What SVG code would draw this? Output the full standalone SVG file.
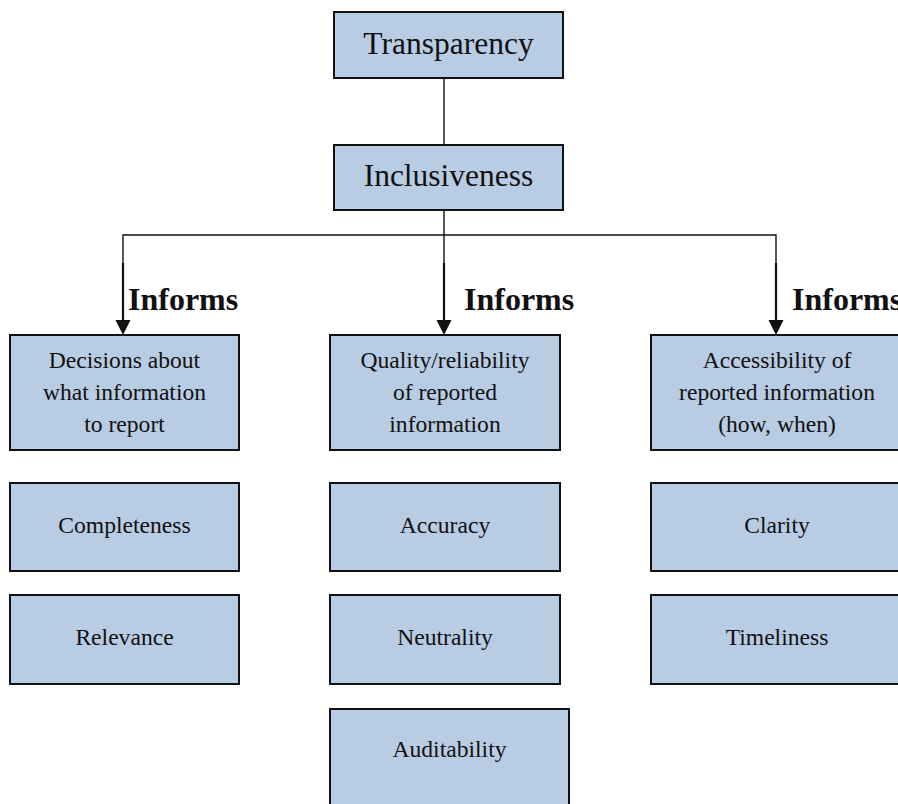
<svg xmlns="http://www.w3.org/2000/svg" width="898" height="804" viewBox="0 0 898 804">
  <style>
    .box { fill: #b8cce4; stroke: #111; stroke-width: 2; }
    .t { font-family: "Liberation Serif", "Times New Roman", serif; fill: #111; text-anchor: middle; }
    .big { font-size: 31.5px; }
    .med { font-size: 23.6px; }
    .lbl { font-family: "Liberation Serif", "Times New Roman", serif; font-size: 32px; font-weight: bold; fill: #111; }
    .wire { fill: none; stroke: #111; stroke-width: 1.4; }
    .shaft { fill: none; stroke: #111; stroke-width: 2.2; }
    .head { fill: #111; }
  </style>
  <rect width="898" height="804" fill="#fff"/>

  <!-- connectors -->
  <g id="connectors">
    <line class="wire" x1="444" y1="78" x2="444" y2="145"/>
    <line class="wire" x1="444" y1="210" x2="444" y2="263"/>
    <polyline class="wire" points="123,263 123,235 776,235 776,263"/>
    <line class="shaft" x1="123" y1="263" x2="123" y2="322"/>
    <polygon class="head" points="115.5,320 130.5,320 123,335"/>
    <line class="shaft" x1="444" y1="263" x2="444" y2="322"/>
    <polygon class="head" points="436.5,320 451.5,320 444,335"/>
    <line class="shaft" x1="776" y1="263" x2="776" y2="322"/>
    <polygon class="head" points="768.5,320 783.5,320 776,335"/>
    <text class="lbl" x="128" y="310">Informs</text>
    <text class="lbl" x="464" y="310">Informs</text>
    <text class="lbl" x="792" y="310">Informs</text>
  </g>

  <g id="transparency">
    <rect class="box" x="334" y="12" width="229" height="66"/>
    <text class="t big" x="448.5" y="54">Transparency</text>
  </g>
  <g id="inclusiveness">
    <rect class="box" x="334" y="145" width="229" height="65"/>
    <text class="t big" x="448.5" y="186">Inclusiveness</text>
  </g>

  <!-- left column -->
  <g id="decisions">
    <rect class="box" x="10" y="335" width="229" height="115"/>
    <text class="t med" x="124.5" y="368">Decisions about</text>
    <text class="t med" x="124.5" y="400">what information</text>
    <text class="t med" x="124.5" y="432">to report</text>
  </g>
  <g id="completeness">
    <rect class="box" x="10" y="483" width="229" height="88"/>
    <text class="t med" x="124.5" y="533">Completeness</text>
  </g>
  <g id="relevance">
    <rect class="box" x="10" y="595" width="229" height="89"/>
    <text class="t med" x="124.5" y="645">Relevance</text>
  </g>

  <!-- middle column -->
  <g id="quality">
    <rect class="box" x="330" y="335" width="230" height="115"/>
    <text class="t med" x="445" y="368">Quality/reliability</text>
    <text class="t med" x="445" y="400">of reported</text>
    <text class="t med" x="445" y="432">information</text>
  </g>
  <g id="accuracy">
    <rect class="box" x="330" y="483" width="230" height="88"/>
    <text class="t med" x="445" y="533">Accuracy</text>
  </g>
  <g id="neutrality">
    <rect class="box" x="330" y="595" width="230" height="89"/>
    <text class="t med" x="445" y="645">Neutrality</text>
  </g>
  <g id="auditability">
    <rect class="box" x="330" y="709" width="239" height="110"/>
    <text class="t med" x="449.5" y="757">Auditability</text>
  </g>

  <!-- right column -->
  <g id="accessibility">
    <rect class="box" x="651" y="335" width="252" height="115"/>
    <text class="t med" x="777" y="368">Accessibility of</text>
    <text class="t med" x="777" y="400">reported information</text>
    <text class="t med" x="777" y="432">(how, when)</text>
  </g>
  <g id="clarity">
    <rect class="box" x="651" y="483" width="252" height="88"/>
    <text class="t med" x="777" y="533">Clarity</text>
  </g>
  <g id="timeliness">
    <rect class="box" x="651" y="595" width="252" height="89"/>
    <text class="t med" x="777" y="645">Timeliness</text>
  </g>
</svg>
